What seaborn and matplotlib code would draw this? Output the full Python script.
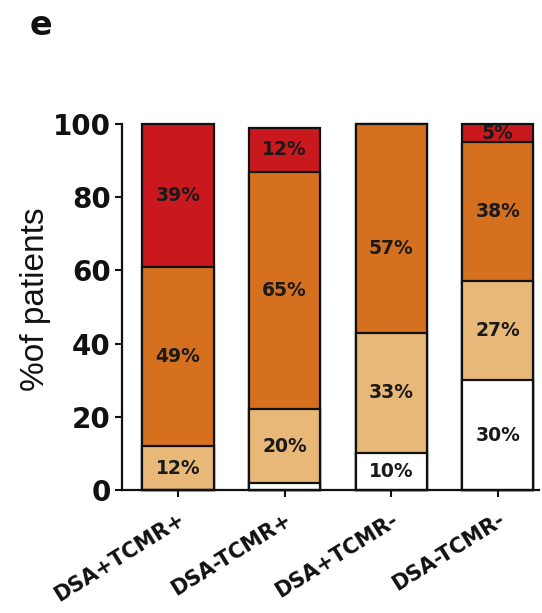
import numpy as np
import pandas as pd
import matplotlib
matplotlib.use("Agg")
import matplotlib.pyplot as plt
import seaborn as sns

# Groups and percentage of patients in each class (bottom to top)
groups = ["DSA+TCMR+", "DSA-TCMR+", "DSA+TCMR-", "DSA-TCMR-"]
pct_white = [0, 2, 10, 30]
pct_tan = [12, 20, 33, 27]
pct_orange = [49, 65, 57, 38]
pct_red = [39, 12, 0, 5]

y_ticks = [0, 20, 40, 60, 80, 100]

layers = [pct_white, pct_tan, pct_orange, pct_red]
colors = ["#FFFFFF", "#E7B878", "#D5701F", "#C9181E"]

sns.set_style("ticks")
plt.rcParams["font.family"] = ["DejaVu Sans"]

fig = plt.figure(figsize=(5.42, 6.13), dpi=100)
ax = fig.add_axes([0.225, 0.2007, 0.77, 0.597])

data = pd.DataFrame({"group": groups})
cum = np.cumsum(np.array(layers, dtype=float), axis=0)

# Overlapping cumulative bars: tallest first, each lower layer painted over it
for i in range(len(layers) - 1, -1, -1):
    data["top"] = cum[i]
    sns.barplot(data=data, x="group", y="top", order=groups, color=colors[i],
                saturation=1, width=0.667, edgecolor="#111111", linewidth=1.6,
                errorbar=None, ax=ax)

for p in ax.patches:
    p.set_clip_on(False)

# Percentage labels centred in each segment
label_shift = {(2, 2): -5.5}
for j in range(len(groups)):
    base = 0.0
    for i, layer in enumerate(layers):
        v = layer[j]
        if v >= 5:
            yc = base + v / 2 + label_shift.get((j, i), 0)
            ax.text(j, yc, f"{v}%", ha="center", va="center",
                    fontsize=13.5, fontweight="bold", color="#1a1a1a")
        base += v

ax.set_ylim(0, 100)
ax.set_xlim(-0.526, 3.39)
ax.set_yticks(y_ticks)
ax.set_yticklabels([str(t) for t in y_ticks], fontsize=20, fontweight="bold",
                   color="#111111")
ax.set_xticks(range(len(groups)))
ax.set_xticklabels(groups, rotation=32, ha="right", va="top",
                   rotation_mode="anchor", fontsize=15, fontweight="bold",
                   color="#111111")
ax.tick_params(axis="y", length=5, width=1.5, pad=3, color="#111111")
ax.tick_params(axis="x", length=5, width=1.5, pad=9, color="#111111")

ax.set_xlabel("")
ax.set_ylabel("%of patients", fontsize=24, family=["Liberation Sans", "DejaVu Sans"],
              color="#111111")
ax.yaxis.set_label_coords(-0.17, 0.52)

for side in ["top", "right"]:
    ax.spines[side].set_visible(False)
for side in ["left", "bottom"]:
    ax.spines[side].set_linewidth(1.6)
    ax.spines[side].set_color("#111111")

fig.text(0.076, 0.958, "e", fontsize=24, fontweight="bold", ha="center",
         va="center", color="#111111")

fig.savefig("out.png", dpi=100, facecolor="white")
